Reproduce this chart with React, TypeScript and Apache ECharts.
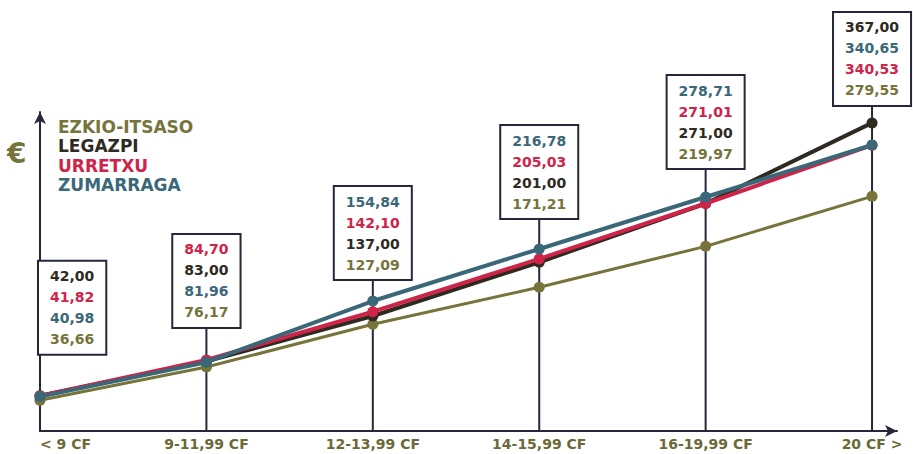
import React, { useEffect, useRef } from 'react';
import * as echarts from 'echarts';

const CATEGORIES = ['< 9 CF', '9-11,99 CF', '12-13,99 CF', '14-15,99 CF', '16-19,99 CF', '20 CF >'];
const SERIES_NAMES = ['EZKIO-ITSASO', 'LEGAZPI', 'URRETXU', 'ZUMARRAGA'];
const EZKIO = [36.66, 76.17, 127.09, 171.21, 219.97, 279.55];
const LEGAZPI = [42.0, 83.0, 137.0, 201.0, 271.0, 367.0];
const URRETXU = [41.82, 84.7, 142.1, 205.03, 271.01, 340.53];
const ZUMARRAGA = [40.98, 81.96, 154.84, 216.78, 278.71, 340.65];
const Y_MAX = 380;

const VALUES = [EZKIO, LEGAZPI, URRETXU, ZUMARRAGA];
const COLORS = ['#76743a', '#2e2a1f', '#cf2449', '#3b6878'];
const AXIS = '#25283a';
const FONT = '"DejaVu Sans", sans-serif';
// vertical lift (px) of each value box above the highest point of its column
const BOX_LIFT = [43, 34, 23, 32, 30, 19];

const fmt = (v: number) => v.toFixed(2).replace('.', ',');

export default function App() {
  const ref = useRef<HTMLDivElement>(null);
  useEffect(() => {
    if (!ref.current) return;
    const chart = echarts.init(ref.current, undefined, { renderer: 'svg' });
    const rich: Record<string, any> = {};
    COLORS.forEach((c, s) => {
      rich['s' + s] = { fill: c, fontSize: 14, fontWeight: 'bold', fontFamily: FONT, lineHeight: 21 };
    });
    const maxima = CATEGORIES.map((_, i) => [i, Math.max(...VALUES.map((vals) => vals[i]))]);
    chart.setOption({
      animation: false,
      backgroundColor: '#ffffff',
      grid: { left: 40, right: 16, top: 112, bottom: 23, containLabel: false },
      legend: {
        orient: 'vertical',
        left: 48,
        top: 112,
        icon: 'rect',
        itemWidth: 0,
        itemHeight: 0,
        itemGap: 0,
        selectedMode: false,
        textStyle: { fontFamily: FONT, fontWeight: 'bold', fontSize: 17, lineHeight: 19.5 },
        data: SERIES_NAMES.map((n, s) => ({ name: n, textStyle: { color: COLORS[s] } })),
      },
      graphic: [
        {
          type: 'text',
          left: 7,
          top: 139,
          style: { text: '€', fill: '#76743a', font: 'bold 28px "DejaVu Sans", sans-serif' },
        },
      ],
      xAxis: {
        type: 'value',
        min: 0,
        max: 5.15,
        interval: 1,
        splitLine: { show: false },
        axisTick: { show: false },
        axisLine: {
          show: true,
          symbol: ['none', 'arrow'],
          symbolSize: [9, 12],
          lineStyle: { color: AXIS, width: 2 },
        },
        axisLabel: {
          show: true,
          showMaxLabel: false,
          alignMinLabel: 'left',
          margin: 6,
          color: '#6b6936',
          fontFamily: FONT,
          fontWeight: 'bold',
          fontSize: 14,
          formatter: (v: number) => (Number.isInteger(v) && v >= 0 && v < CATEGORIES.length ? CATEGORIES[v] : ''),
        },
      },
      yAxis: {
        type: 'value',
        min: 0,
        max: Y_MAX,
        splitLine: { show: false },
        axisTick: { show: false },
        axisLabel: { show: false },
        axisLine: {
          show: true,
          symbol: ['none', 'arrow'],
          symbolSize: [9, 12],
          lineStyle: { color: AXIS, width: 2 },
        },
      },
      series: [
        {
          type: 'custom',
          z: 1,
          silent: true,
          clip: false,
          data: maxima,
          renderItem: (params: any, api: any) => {
            const i = api.value(0);
            const top = api.value(1);
            const base = api.coord([i, 0]);
            const peak = api.coord([i, top]);
            const boxBottom = peak[1] - BOX_LIFT[i];
            const entries = VALUES.map((vals, s) => ({ v: vals[i], s })).sort((a, b) => b.v - a.v);
            const text = entries.map((e) => `{s${e.s}|${fmt(e.v)}}`).join('\n');
            return {
              type: 'group',
              children: [
                {
                  type: 'line',
                  shape: { x1: base[0], y1: base[1], x2: base[0], y2: boxBottom },
                  style: { stroke: AXIS, lineWidth: 2 },
                },
                {
                  type: 'text',
                  x: i === 0 ? base[0] - 1 : base[0],
                  y: boxBottom + 1,
                  style: {
                    text,
                    rich,
                    align: i === 0 ? 'left' : 'center',
                    verticalAlign: 'bottom',
                    backgroundColor: '#ffffff',
                    borderColor: AXIS,
                    borderWidth: 2,
                    padding: [4, 11],
                  },
                },
              ],
            };
          },
        },
        ...SERIES_NAMES.map((name, s) => ({
          name,
          type: 'line',
          z: 2 + s,
          data: VALUES[s].map((v, i) => [i, v]),
          symbol: 'circle',
          symbolSize: 11,
          itemStyle: { color: COLORS[s] },
          lineStyle: { color: COLORS[s], width: s === 0 ? 3 : 4 },
        })),
      ],
    });
    return () => chart.dispose();
  }, []);
  return <div ref={ref} style={{ width: 913, height: 454, position: 'absolute', left: 0, top: 0 }} />;
}
